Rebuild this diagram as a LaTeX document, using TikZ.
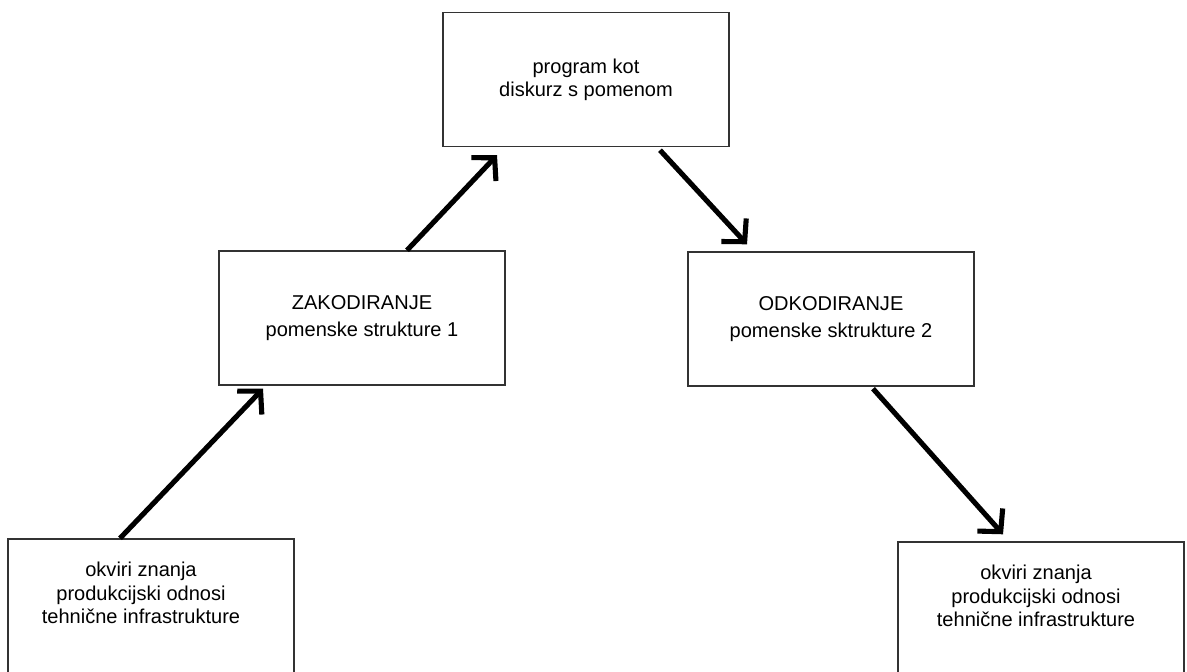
\documentclass[tikz,border=0pt]{standalone}
\usepackage{fontspec}
\setmainfont{Liberation Sans}
\usepackage{tikz}
\usetikzlibrary{arrows.meta, positioning}

\begin{document}
\begin{tikzpicture}[
    box/.style={rectangle, draw=black!80, line width=0.8pt, fill=white, minimum width=5.72cm, minimum height=2.68cm, align=center, font=\fontsize{11.4}{13.2}\selectfont},
    txt/.style={align=center, inner sep=0pt, font=\fontsize{11.4}{13.2}\selectfont},
    arr/.style={draw=black, line width=2.9pt, -{Straight Barb[length=3.2mm, width=6.8mm]}}
]
    \useasboundingbox (0,0) rectangle (23.74,13.42);
    \clip (0,0) rectangle (23.74,13.42);

    % Boxes
    \node[box] (PROG) at (11.72, 11.83) {program kot\\diskurz s pomenom};
    \node[box] (ZAK) at (7.24, 7.06) {ZAKODIRANJE\\[2pt]pomenske strukture 1};
    \node[box] (ODK) at (16.62, 7.04) {ODKODIRANJE\\[2pt]pomenske sktrukture 2};
    \node[box] (OKL) at (3.02, 1.30) {};
    \node[box] (OKR) at (20.82, 1.24) {};

    % Texts of the lower boxes
    \node[txt] (OKLt) at (2.82, 1.56) {okviri znanja\\produkcijski odnosi\\tehnične infrastrukture};
    \node[txt] (OKRt) at (20.72, 1.50) {okviri znanja\\produkcijski odnosi\\tehnične infrastrukture};

    % Connectors
    \draw[arr] ([xshift=-0.62cm]OKL.north) -- ([xshift=-1.98cm, yshift=-0.06cm]ZAK.south);
    \draw[arr] ([xshift=0.9cm]ZAK.north) -- ([xshift=-1.78cm, yshift=-0.16cm]PROG.south);
    \draw[arr] ([xshift=1.48cm, yshift=-0.06cm]PROG.south) -- ([xshift=-1.68cm, yshift=0.14cm]ODK.north);
    \draw[arr] ([xshift=0.84cm, yshift=-0.04cm]ODK.south) -- ([xshift=-0.76cm, yshift=0.14cm]OKR.north);
\end{tikzpicture}
\end{document}
